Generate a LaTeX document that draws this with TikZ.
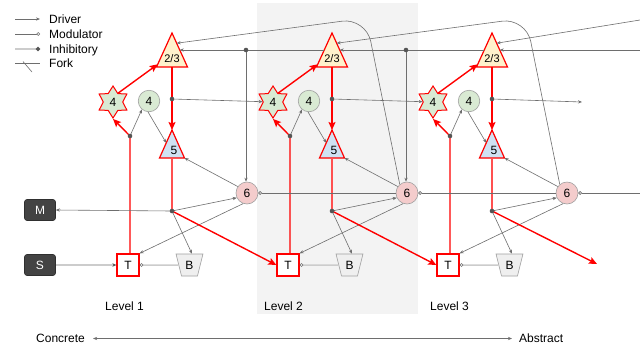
\documentclass[tikz,border=0pt]{standalone}
\usepackage{fontspec}
\setmainfont{Liberation Sans}
\usetikzlibrary{shapes.geometric,arrows.meta,calc}
\definecolor{bggrey}{HTML}{F3F3F3}
\definecolor{redline}{HTML}{FF0000}
\definecolor{pinkline}{HTML}{FF5050}
\definecolor{lgrey}{HTML}{6E6E6E}
\definecolor{paleline}{HTML}{CCCCCC}
\definecolor{yellowfill}{HTML}{FFF2CC}
\definecolor{greenfill}{HTML}{D9EAD3}
\definecolor{bluefill}{HTML}{CFE2F3}
\definecolor{pinkfill}{HTML}{F4CCCC}
\definecolor{bfill}{HTML}{EFEFEF}
\definecolor{darkfill}{HTML}{434343}
\definecolor{dotgrey}{HTML}{555555}
\definecolor{bordergrey}{HTML}{A0A0A0}
\tikzset{
  lbl/.style={font=\fontsize{12}{14}\selectfont, text height=8.6pt, text depth=0pt, inner sep=0pt},
  lbll/.style={lbl, anchor=west},
  driver/.style={draw=lgrey, line width=0.6pt, -{Stealth[length=4pt,width=3.2pt]}},
  modline/.style={draw=lgrey, line width=0.6pt, -{Circle[color=lgrey,fill=white,length=3.6pt,width=3.6pt]}},
  palemod/.style={draw=paleline, line width=1.5pt, -{Circle[color=lgrey,fill=white,length=3.6pt,width=3.6pt,line width=0.6pt]}},
  paledrive/.style={draw=paleline, line width=1.5pt, -{Stealth[color=dotgrey,length=4pt,width=3.5pt]}},
  paleinh/.style={draw=paleline, line width=1.5pt, -{Circle[color=dotgrey,length=4pt,width=4pt]}},
  redarrow/.style={draw=redline, line width=1.4pt, -{Stealth[length=8pt,width=7pt,inset=1.5pt]}},
  fork/.style={circle, fill=dotgrey, inner sep=0pt, minimum size=4.6pt},
  tri/.style={draw=redline, line width=1.2pt, line join=miter},
  greycirc/.style={circle, draw=bordergrey, line width=0.6pt, minimum size=21.5pt, lbl},
  starnode/.style={star, star points=6, star point ratio=1.65, minimum size=32pt, draw=redline, line width=1pt, fill=greenfill, lbl},
  tbox/.style={rectangle, minimum size=22pt, draw=redline, line width=1.3pt, fill=white, lbl},
  bbox/.style={trapezium, trapezium angle=108, trapezium stretches=true, minimum width=27pt, minimum height=22pt, draw=bordergrey, line width=0.6pt, fill=bfill, lbl},
  mbox/.style={rectangle, rounded corners=2.5pt, minimum width=31pt, minimum height=21pt, fill=darkfill, draw=darkfill!70!black, line width=0.6pt, text=white, lbl},
  thin/.style={draw=lgrey, line width=0.6pt},
}
\begin{document}
\begin{tikzpicture}[x=1pt,y=-1pt]
\useasboundingbox (0,0) rectangle (640,360);
\fill[white] (0,0) rectangle (640,360);
\fill[bggrey] (257,3) rectangle (418,314);

% legend
\coordinate (l1a) at (15,19); \coordinate (l1b) at (40,19);
\coordinate (l2a) at (15,34); \coordinate (l2b) at (40,34);
\coordinate (l3a) at (15,49); \coordinate (l3b) at (40,49);
\coordinate (l4a) at (15,63); \coordinate (l4b) at (40,63);
\coordinate (l4c) at (23,61.5); \coordinate (l4d) at (32,72);
\draw[driver] (l1a) -- (l1b);
\draw[modline] (l2a) -- (l2b);
\draw[paleinh] (l3a) -- (l3b);
\draw[thin] (l4a) -- (l4b);
\draw[thin] (l4c) -- (l4d);
\node[lbll] (lg1) at (49,19) {Driver};
\node[lbll] (lg2) at (49,34) {Modulator};
\node[lbll] (lg3) at (49,49) {Inhibitory};
\node[lbll] (lg4) at (49,63) {Fork};

% levels
\foreach \L/\dx in {1/0,2/160,3/320}{
 \begin{scope}[xshift=\dx pt]
  \coordinate (ta\L) at (172,33);
  \coordinate (tl\L) at (156.5,67);
  \coordinate (tr\L) at (187.5,67);
  \coordinate (tb\L) at (172,67);
  \filldraw[tri, fill=yellowfill] (ta\L) -- (tr\L) -- (tl\L) -- cycle;
  \node[lbl, font=\fontsize{11}{13}\selectfont, text height=7.9pt] (n23\L) at (172,58.5) {2/3};
  \coordinate (fa\L) at (172,99);
  \coordinate (qa\L) at (172,130);
  \coordinate (ql\L) at (159.5,158);
  \coordinate (qr\L) at (184.5,158);
  \coordinate (qb\L) at (172,158);
  \filldraw[tri, fill=bluefill] (qa\L) -- (qr\L) -- (ql\L) -- cycle;
  \node[lbl] (n5\L) at (174,150) {5};
  \node[starnode] (s\L) at (113,102) {4};
  \node[greycirc, fill=greenfill] (c\L) at (149,101) {4};
  \node[greycirc, fill=pinkfill, minimum size=22pt] (six\L) at (247,193) {6};
  \node[tbox] (T\L) at (128,265) {T};
  \node[bbox] (B\L) at (189.5,265) {B};
  \coordinate (fb\L) at (130,136);
  \coordinate (fc\L) at (172,211);
 \end{scope}
}
\node[mbox] (M) at (40,210) {M};
\node[mbox] (S) at (40,265) {S};

% within-level connectors
\foreach \L in {1,2,3}{
  \draw[redarrow] (tb\L) -- (qa\L);
  \draw[redarrow] (s\L.60) -- ($(ta\L)!0.92!(tl\L)$);
  \draw[redarrow] (T\L.north -| fb\L) -- (fb\L) -- (s\L.south);
  \draw[driver] (fb\L) -- (c\L.230);
  \draw[driver] (c\L.265) -- ($(qa\L)!0.46!(ql\L)$);
  \draw[draw=pinkline, line width=1.4pt] (qb\L) -- (fc\L);
  \draw[driver] (fc\L) -- (six\L.205);
  \draw[driver] (fc\L) -- ($(B\L.north)+(2.5,0)$);
  \draw[driver] (six\L.145) -- (qr\L);
  \draw[driver] (six\L.250) -- (T\L.north east);
  \draw[palemod] (B\L) -- (T\L);
}

% cross-level connectors
\coordinate (endA) at (582,102);
\coordinate (endC) at (597,264);
\coordinate (edgeA) at (640,50);
\coordinate (edgeB) at (640,20);
\coordinate (edgeC) at (640,193);
\coordinate (fd1) at (246,50);
\coordinate (fd2) at (406,50);
\coordinate (cnA) at (366,18);
\coordinate (cnB) at (526,18);
\draw[driver] (fa1) -- (s2);
\draw[driver] (fa2) -- (s3);
\draw[driver] (fa3) -- (endA);
\draw[redarrow] (fc1) -- (T2.west);
\draw[redarrow] (fc2) -- (T3.west);
\draw[redarrow] (fc3) -- (endC);
\draw[driver] (fc1) -- (M.east);
\draw[paledrive] (S) -- (T1);
\draw[driver] ($(ta2)!0.5!(tl2)$) -- ($(ta1)!0.5!(tr1)$);
\draw[driver] ($(ta3)!0.5!(tl3)$) -- ($(ta2)!0.5!(tr2)$);
\draw[driver] (edgeA) -- ($(ta3)!0.5!(tr3)$);
\draw[driver] (fd1) -- (fd1 |- six1.north);
\draw[driver] (fd2) -- (fd2 |- six2.north);
\draw[driver, rounded corners=24pt] (six2.130) -- (cnA) -- ($(ta1)!0.3!(tr1)$);
\draw[driver, rounded corners=24pt] (six3.130) -- (cnB) -- ($(ta2)!0.3!(tr2)$);
\draw[driver] (edgeB) -- ($(ta3)!0.3!(tr3)$);
\draw[modline] (six2) -- (six1);
\draw[modline] (six3) -- (six2);
\draw[modline] (edgeC) -- (six3);

% fork dots
\foreach \p in {fa1,fa2,fa3,fb1,fb2,fb3,fc1,fc2,fc3,fd1,fd2}
  \node[fork] (dot\p) at (\p) {};

% labels
\node[lbll] (lv1) at (105,306) {Level 1};
\node[lbll] (lv2) at (264,306) {Level 2};
\node[lbll] (lv3) at (430,306) {Level 3};
\node[lbll] (conc) at (36,338) {Concrete};
\node[lbll] (abst) at (519,338) {Abstract};
\draw[draw=lgrey, line width=0.6pt, {Stealth[length=4pt,width=3.2pt]}-{Stealth[length=4pt,width=3.2pt]}] ($(conc.east)+(8,0.5)$) -- ($(abst.west)+(-7,0.5)$);
\end{tikzpicture}
\end{document}
